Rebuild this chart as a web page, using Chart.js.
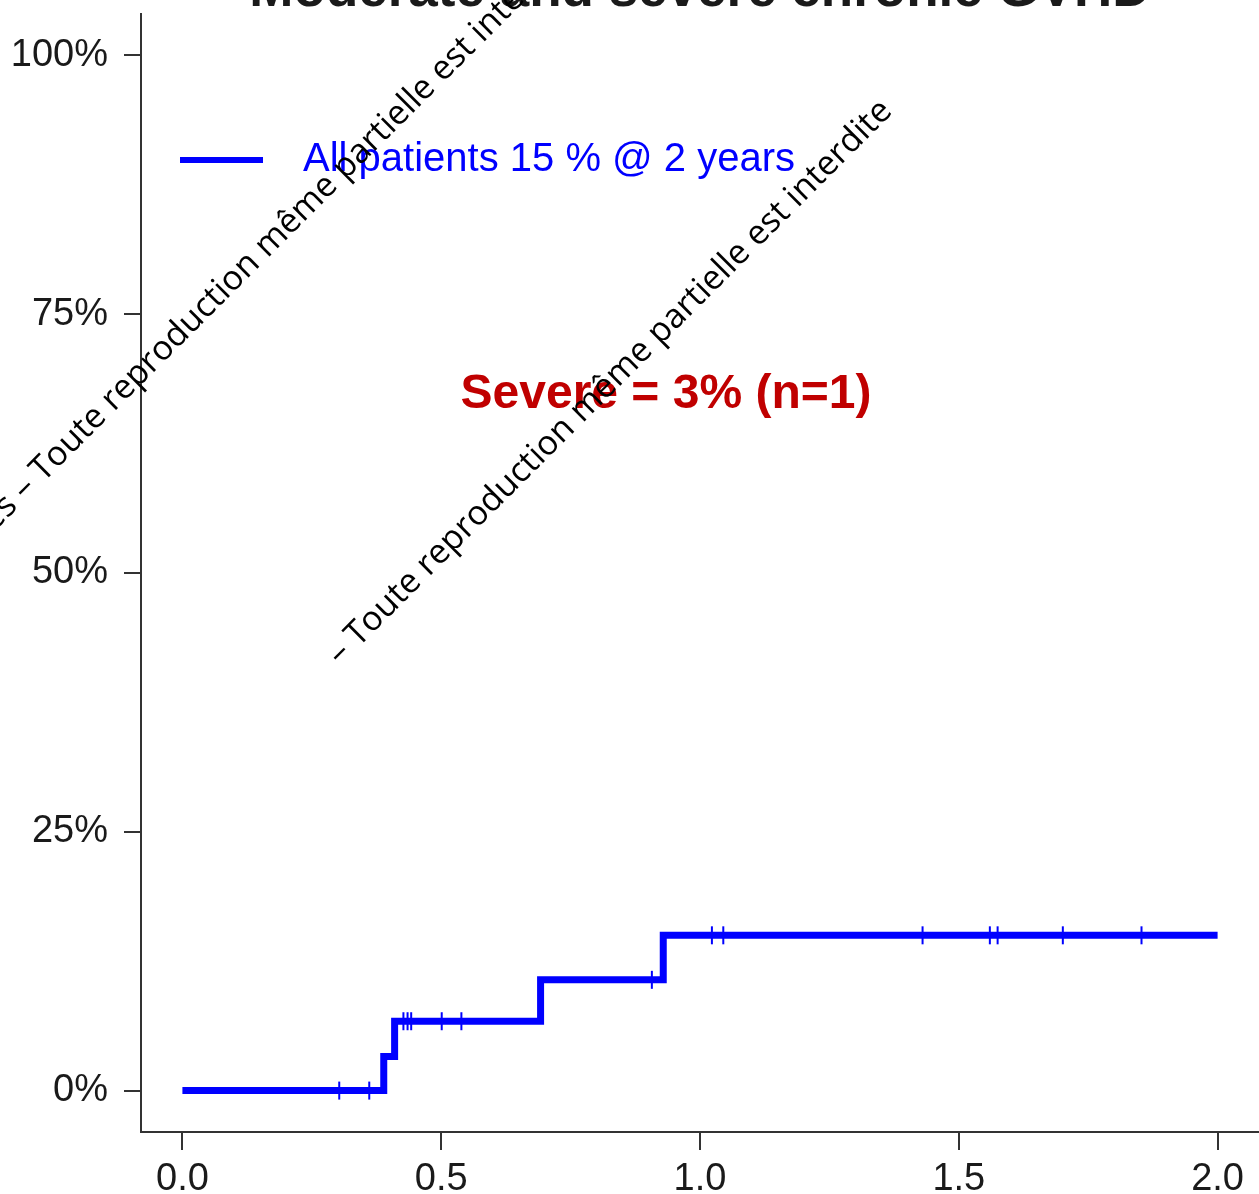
<!DOCTYPE html>
<html>
<head>
<meta charset="utf-8">
<title>Moderate and severe chronic GVHD</title>
<script src="https://cdn.jsdelivr.net/npm/chart.js@4/dist/chart.umd.min.js"></script>
<style>
  html, body { margin: 0; padding: 0; background: #ffffff; }
  #wrap { width: 1259px; height: 1194px; position: relative; overflow: hidden; }
  canvas { display: block; }
</style>
</head>
<body>
<div id="wrap"><canvas id="cic" width="1259" height="1194"></canvas></div>
<script>
// Cumulative incidence of chronic GVHD (years after transplant)
const titleText = 'Moderate and severe chronic GVHD';
const seriesLabel = 'All patients 15 % @ 2 years';
const annotationText = 'Severe = 3% (n=1)';
const watermarkText = 'Tous droits réservés – Toute reproduction même partielle est interdite';
const watermarkShort = '– Toute reproduction même partielle est interdite';

// Step curve: event times and cumulative incidence (%) after each step
const eventTimes = [0, 0.389, 0.410, 0.692, 0.929, 2.0];
const incidence  = [0, 3.3, 6.7, 10.7, 15.0, 15.0];

// Censored observations (time, level of the curve at that time)
const censorTimes  = [0.303, 0.361, 0.427, 0.435, 0.442, 0.501, 0.539, 0.907, 1.023, 1.045, 1.430, 1.560, 1.575, 1.701, 1.853];
const censorLevels = [0, 0, 6.7, 6.7, 6.7, 6.7, 6.7, 10.7, 15.0, 15.0, 15.0, 15.0, 15.0, 15.0, 15.0];

// Axis ticks
const xTickValues = [0, 0.5, 1.0, 1.5, 2.0];
const xTickLabels = ['0.0', '0.5', '1.0', '1.5', '2.0'];
const yTickValues = [0, 25, 50, 75, 100];
const yTickLabels = ['0%', '25%', '50%', '75%', '100%'];

const BLUE = '#0000ff';
const AXIS = '#333333';
const TEXT = '#1a1a1a';
const SANS = '"Liberation Sans", Arial, Helvetica, sans-serif';

const curvePoints = eventTimes.map((t, i) => ({ x: t, y: incidence[i] }));
const censorPoints = censorTimes.map((t, i) => ({ x: t, y: censorLevels[i] }));

// Title, legend entry, annotation and watermark drawn on the canvas
const decorations = {
  id: 'decorations',
  afterDraw(chart) {
    const ctx = chart.ctx;
    const area = chart.chartArea;
    ctx.save();

    // title (largely above the visible canvas)
    ctx.fillStyle = TEXT;
    ctx.font = 'bold 53px ' + SANS;
    ctx.textAlign = 'center';
    ctx.textBaseline = 'alphabetic';
    ctx.fillText(titleText, (area.left + area.right) / 2, 6);

    // legend entry
    const ds = chart.data.datasets[0];
    ctx.strokeStyle = ds.borderColor;
    ctx.lineWidth = 6;
    ctx.lineCap = 'butt';
    ctx.beginPath();
    ctx.moveTo(180, 160);
    ctx.lineTo(263, 160);
    ctx.stroke();
    ctx.fillStyle = ds.borderColor;
    ctx.font = '40px ' + SANS;
    ctx.textAlign = 'left';
    ctx.fillText(ds.label, 303, 171);

    // annotation
    ctx.fillStyle = '#c00000';
    ctx.font = 'bold 48px ' + SANS;
    ctx.textAlign = 'center';
    ctx.fillText(annotationText, 666, 408);

    // diagonal watermark
    ctx.fillStyle = '#000000';
    ctx.font = '34px "Open Sans", "Noto Sans", sans-serif';
    ctx.textAlign = 'left';
    const ang = -Math.PI / 4;
    const ux = Math.cos(ang), uy = Math.sin(ang);
    const prefixW = ctx.measureText(watermarkText.slice(0, watermarkText.indexOf('–'))).width;
    const lines = [
      { text: watermarkText, x: 25 - prefixW * ux, y: 501 - prefixW * uy },
      { text: watermarkShort, x: 340, y: 666 }
    ];
    lines.forEach(l => {
      ctx.save();
      ctx.translate(l.x, l.y);
      ctx.rotate(ang);
      ctx.fillText(l.text, 0, 0);
      ctx.restore();
    });

    ctx.restore();
  }
};

new Chart(document.getElementById('cic'), {
  type: 'line',
  data: {
    datasets: [
      {
        label: seriesLabel,
        data: curvePoints,
        borderColor: BLUE,
        backgroundColor: BLUE,
        borderWidth: 7,
        stepped: 'before',
        borderCapStyle: 'butt',
        borderJoinStyle: 'miter',
        pointRadius: 0,
        fill: false,
        order: 2
      },
      {
        label: 'censored',
        data: censorPoints,
        showLine: false,
        pointStyle: 'line',
        pointRotation: 90,
        pointRadius: 9,
        pointHoverRadius: 9,
        pointBorderWidth: 2,
        borderColor: BLUE,
        pointBorderColor: BLUE,
        backgroundColor: BLUE,
        order: 1
      }
    ]
  },
  options: {
    responsive: false,
    animation: false,
    devicePixelRatio: 1,
    events: [],
    layout: { autoPadding: false, padding: { top: 14, left: 0, right: 0, bottom: 0 } },
    plugins: {
      legend: { display: false },
      tooltip: { enabled: false },
      title: { display: false }
    },
    scales: {
      x: {
        type: 'linear',
        min: -0.08,
        max: 2.08,
        afterBuildTicks(scale) { scale.ticks = xTickValues.map(v => ({ value: v })); },
        afterFit(scale) {
          scale.height = 62;
          scale.paddingLeft = 0; scale.paddingRight = 0;
          scale.paddingTop = 0; scale.paddingBottom = 0;
        },
        grid: { drawOnChartArea: false, drawTicks: true, tickLength: 18, color: AXIS, lineWidth: 2 },
        border: { display: true, color: AXIS, width: 2 },
        ticks: {
          autoSkip: false,
          maxRotation: 0,
          padding: 7,
          color: TEXT,
          font: { family: SANS, size: 38 },
          callback(value) { const i = xTickValues.indexOf(value); return i >= 0 ? xTickLabels[i] : ''; }
        }
      },
      y: {
        type: 'linear',
        min: -4,
        max: 104,
        afterBuildTicks(scale) { scale.ticks = yTickValues.map(v => ({ value: v })); },
        afterFit(scale) {
          scale.width = 141;
          scale.paddingLeft = 0; scale.paddingRight = 0;
          scale.paddingTop = 0; scale.paddingBottom = 0;
        },
        grid: { drawOnChartArea: false, drawTicks: true, tickLength: 17, color: AXIS, lineWidth: 2 },
        border: { display: true, color: AXIS, width: 2 },
        ticks: {
          autoSkip: false,
          padding: 16,
          color: TEXT,
          font: { family: SANS, size: 38 },
          callback(value) { const i = yTickValues.indexOf(value); return i >= 0 ? yTickLabels[i] : ''; }
        }
      }
    }
  },
  plugins: [decorations]
});
</script>
</body>
</html>
